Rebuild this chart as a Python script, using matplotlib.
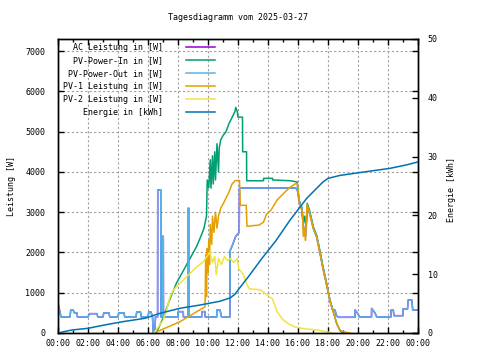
import matplotlib
matplotlib.use("Agg")
import matplotlib.pyplot as plt
from matplotlib.ticker import MultipleLocator

plt.rcParams['font.family'] = ['DejaVu Sans Mono']
plt.rcParams['font.size'] = 6

# Stunden (0..24) und Leistungen in W
pv_out_h = [0.0, 0.1, 0.2, 0.8, 0.85, 1.0, 1.1, 1.25, 1.3, 2.0, 2.1, 2.6, 2.65, 3.0, 3.05, 3.4, 3.45,
            4.0, 4.05, 4.4, 4.45, 5.2, 5.25, 5.5, 5.55, 6.0, 6.05, 6.2, 6.3, 6.35, 6.45, 6.5, 6.64, 6.65,
            6.85, 6.86, 6.97, 6.98, 7.02, 7.03, 8.0, 8.01, 8.35, 8.36, 8.68, 8.69, 8.71, 8.72, 9.58, 9.59,
            9.8, 9.81, 10.58, 10.59, 10.8, 10.9, 11.46, 11.48, 11.65, 11.85, 12.08, 12.1, 15.87, 16.0,
            16.1, 16.25, 16.4, 16.5, 16.62, 16.8, 17.02, 17.25, 17.47, 17.67, 17.91, 18.13, 18.33, 18.47,
            18.55, 18.67, 19.8, 19.81, 19.95, 20.1, 20.9, 20.91, 21.13, 21.25, 22.2, 22.21, 22.35, 22.4,
            23.0, 23.01, 23.3, 23.35, 23.58, 23.65, 24.0]
pv_out_w = [740, 570, 400, 400, 570, 570, 500, 500, 400, 400, 480, 480, 400, 400, 500, 500, 400,
            400, 500, 500, 400, 400, 520, 520, 400, 400, 520, 520, 400, 0, 0, 400, 400, 3550,
            3550, 400, 400, 2400, 2400, 400, 400, 530, 530, 400, 400, 3100, 3100, 400, 400, 530,
            530, 400, 400, 570, 570, 400, 400, 2050, 2200, 2400, 2500, 3600, 3600, 3500,
            3250, 3100, 2500, 2400, 3150, 2950, 2600, 2380, 1980, 1600, 1200, 800, 550, 570,
            440, 390, 390, 570, 500, 400, 400, 610, 500, 400, 400, 570, 570, 430,
            430, 600, 600, 820, 820, 570, 570]

ac_h = pv_out_h
ac_w = pv_out_w

pv_in_h = [6.55, 7.02, 7.47, 7.91, 8.36, 8.8, 9.24, 9.58, 9.73, 9.9, 9.95, 10.05, 10.15, 10.2, 10.3,
           10.35, 10.45, 10.5, 10.6, 10.7, 10.75, 10.85, 11.0, 11.2, 11.4, 11.6, 11.8, 11.85, 11.95,
           12.0, 12.3, 12.31, 12.57, 12.58, 13.7, 13.71, 14.3, 14.31, 15.5, 15.95, 16.05, 16.25, 16.35,
           16.45, 16.55, 16.62, 16.8, 17.02, 17.25, 17.47, 17.67, 17.91, 18.13, 18.33, 18.58, 18.8, 19.0]
pv_in_w = [0, 380, 850, 1250, 1550, 1850, 2150, 2450, 2600, 2900, 3800, 3600, 4300, 3600, 4400,
           3700, 4500, 3800, 4700, 4000, 4600, 4800, 4900, 5000, 5200, 5350, 5500, 5600, 5500,
           5360, 5360, 4500, 4500, 3780, 3780, 3840, 3840, 3800, 3780, 3750, 3300, 3130, 2700,
           2900, 2600, 3220, 3000, 2640, 2420, 2030, 1640, 1230, 820, 560, 230, 60, 0]

pv1_h = [6.4, 8.13, 9.25, 9.58, 9.8, 9.85, 9.9, 9.95, 10.0, 10.05, 10.1, 10.15, 10.25, 10.3, 10.4,
         10.5, 10.6, 10.7, 10.85, 11.0, 11.2, 11.4, 11.6, 11.8, 12.1, 12.15, 12.55, 12.6, 13.4, 13.7,
         13.9, 14.2, 14.6, 15.0, 15.4, 15.8, 15.95, 16.05, 16.1, 16.3, 16.35, 16.45, 16.5, 16.6, 16.75,
         17.02, 17.25, 17.47, 17.67, 17.91, 18.13, 18.33, 18.6, 18.8, 19.0, 19.47]
pv1_w = [0, 280, 530, 600, 650, 1950, 900, 2100, 1500, 2300, 1700, 2700, 2200, 2900, 2500,
         3000, 2600, 2900, 3100, 3200, 3350, 3500, 3700, 3780, 3790, 3170, 3170, 2650, 2680, 2750,
         2950, 3050, 3300, 3450, 3600, 3700, 3720, 3400, 3200, 3000, 2400, 2600, 2300, 3200, 3000,
         2600, 2380, 1980, 1600, 1200, 800, 540, 230, 75, 30, 0]

pv2_h = [6.4, 7.02, 7.24, 7.47, 7.69, 8.58, 9.24, 9.69, 10.13, 10.3, 10.45, 10.55, 10.7, 10.9, 11.1,
         11.3, 11.5, 11.7, 11.95, 12.05, 12.35, 12.6, 12.75, 13.5, 13.8, 14.1, 14.3, 14.6, 15.0, 15.4,
         15.8, 16.5, 17.2, 17.8, 18.3]
pv2_w = [0, 320, 570, 900, 1070, 1400, 1640, 1770, 2010, 1750, 1900, 1450, 1850, 1700, 1900,
         1800, 1850, 1750, 1850, 1600, 1450, 1200, 1100, 1070, 980, 900, 850, 530, 330, 220,
         150, 100, 80, 40, 0]

energie_h = [0.0, 0.9, 2.0, 3.1, 4.25, 5.8, 6.8, 8.13, 9.47, 10.8, 11.5, 11.8, 12.0, 12.7, 13.6,
             14.5, 15.47, 16.58, 17.67, 18.0, 18.8, 19.9, 21.0, 22.13, 23.25, 24.0]
energie_kwh = [0, 0.5, 0.8, 1.36, 1.9, 2.5, 3.35, 4.2, 4.76, 5.4, 6.0, 6.6, 7.3, 9.6, 12.7,
               15.6, 19.2, 22.9, 25.7, 26.3, 26.8, 27.2, 27.6, 28.0, 28.6, 29.1]

x_labels = ['00:00', '02:00', '04:00', '06:00', '08:00', '10:00', '12:00',
            '14:00', '16:00', '18:00', '20:00', '22:00', '00:00']

fig = plt.figure(figsize=(4.8, 3.6), dpi=100)
ax = fig.add_axes([58 / 480, 1 - 333 / 360, 360 / 480, 294 / 360])
ax2 = ax.twinx()

lw = 1.1
l1, = ax.plot(ac_h, ac_w, color='#9400d3', lw=lw, label='AC Leistung in [W]')
l2, = ax.plot(pv_in_h, pv_in_w, color='#009e73', lw=lw, label='PV-Power-In in [W]')
l3, = ax.plot(pv_out_h, pv_out_w, color='#56b4e9', lw=lw, label='PV-Power-Out in [W]')
l4, = ax.plot(pv1_h, pv1_w, color='#e69f00', lw=lw, label='PV-1 Leistung in [W]')
l5, = ax.plot(pv2_h, pv2_w, color='#f0e442', lw=lw, label='PV-2 Leistung in [W]')
l6, = ax2.plot(energie_h, energie_kwh, color='#0072b2', lw=lw, label='Energie in [kWh]')

ax.set_xlim(0, 24)
ax.set_ylim(0, 7300)
ax2.set_ylim(0, 50)

ax.set_xticks(range(0, 25, 2))
ax.set_xticklabels(x_labels)
ax.xaxis.set_minor_locator(MultipleLocator(1))
ax.yaxis.set_major_locator(MultipleLocator(1000))
ax2.yaxis.set_major_locator(MultipleLocator(10))

ax.tick_params(which='major', direction='in', length=4, width=1, top=True, right=True,
               labelright=False, pad=4)
ax.tick_params(axis='y', pad=9)
ax.tick_params(which='minor', direction='in', length=2.5, width=1, top=True, right=False)
ax.tick_params(axis='y', which='minor', left=False, right=False)
ax2.tick_params(direction='in', length=4, width=1, pad=7)

ax.grid(True, which='major', color='#a0a0a0', linestyle=(0, (2, 2)), lw=0.8)
ax.set_axisbelow(True)
for sp in list(ax.spines.values()) + list(ax2.spines.values()):
    sp.set_linewidth(1.0)

fig.text(238 / 480, 1 - 18 / 360, 'Tagesdiagramm vom 2025-03-27', ha='center', va='center')
fig.text(12 / 480, 1 - 186 / 360, 'Leistung [W]', rotation=90, ha='center', va='center')
fig.text(452 / 480, 1 - 190 / 360, 'Energie [kWh]', rotation=90, ha='center', va='center')

leg = ax2.legend(handles=[l1, l2, l3, l4, l5, l6], loc='upper left', bbox_to_anchor=(0.014, 0.985),
                 frameon=False, markerfirst=False, handlelength=3.4, handletextpad=2.8,
                 labelspacing=0.48, borderpad=0, borderaxespad=0)

fig.savefig('out.png', dpi=100)
